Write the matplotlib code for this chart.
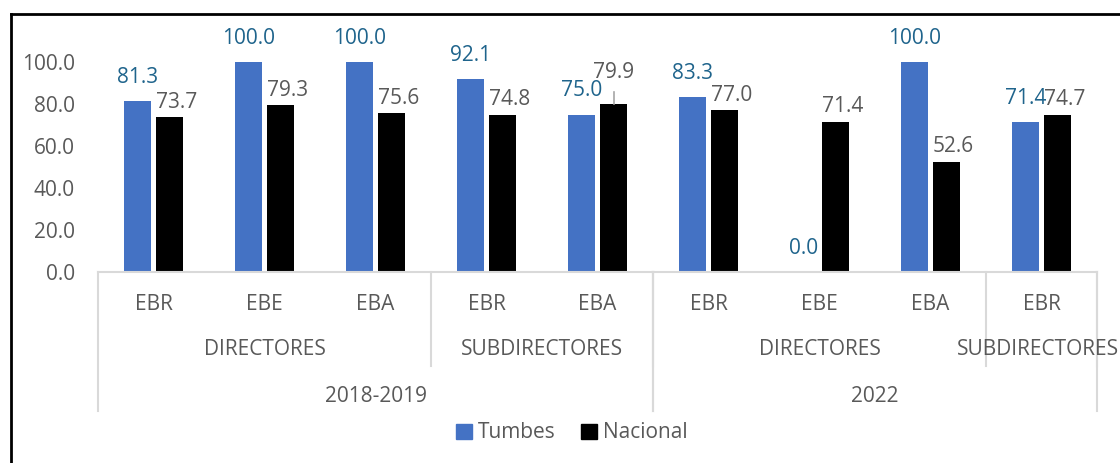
import matplotlib
matplotlib.use('Agg')
import matplotlib.pyplot as plt
from matplotlib.lines import Line2D
from matplotlib.patches import Patch
import matplotlib.transforms as mtransforms
import numpy as np

plt.rcParams['font.family'] = ['Open Sans', 'DejaVu Sans']

niveles = ['EBR', 'EBE', 'EBA', 'EBR', 'EBA', 'EBR', 'EBE', 'EBA', 'EBR']
cargos = [('DIRECTORES', 0, 2), ('SUBDIRECTORES', 3, 4),
          ('DIRECTORES', 5, 7), ('SUBDIRECTORES', 8, 8)]
periodos = [('2018-2019', 0, 4), ('2022', 5, 8)]
tumbes = [81.3, 100.0, 100.0, 92.1, 75.0, 83.3, 0.0, 100.0, 71.4]
nacional = [73.7, 79.3, 75.6, 74.8, 79.9, 77.0, 71.4, 52.6, 74.7]

azul = '#4472C4'
negro = '#000000'
gris = '#595959'
etiq_azul = '#1F648C'
linea = '#D9D9D9'
fs = 15

fig = plt.figure(figsize=(11.2, 4.63), dpi=100)
ax = fig.add_axes([98 / 1120, (463 - 272) / 463, 999 / 1120, 210 / 463])

x = np.arange(len(niveles))
w = 0.245
off = 0.145
ax.bar(x - off, tumbes, w, color=azul)
ax.bar(x + off, nacional, w, color=negro)

ax.set_xlim(-0.5, len(niveles) - 0.5)
ax.set_ylim(0, 100)
ax.set_yticks(np.arange(0, 101, 20))
ax.set_yticklabels([f'{v:.1f}' for v in np.arange(0, 101, 20)], fontsize=fs, color=gris)
ax.tick_params(axis='y', length=0, pad=16.5)
ax.set_xticks([])
for s in ['top', 'right', 'left']:
    ax.spines[s].set_visible(False)
ax.spines['bottom'].set_color(linea)
ax.spines['bottom'].set_linewidth(1.5)

# etiquetas de datos
for i, v in enumerate(tumbes):
    ax.annotate(f'{v:.1f}', (x[i] - off, v), xytext=(0, 13), textcoords='offset points',
                ha='center', va='baseline', fontsize=fs, color=etiq_azul, annotation_clip=False)
for i, v in enumerate(nacional):
    if i == 4:
        ax.plot([x[i] + off, x[i] + off], [v, v + 6], color='#A6A6A6', lw=1.2, clip_on=False)
        ax.annotate(f'{v:.1f}', (x[i] + off, v), xytext=(0, 19), textcoords='offset points',
                    ha='center', va='baseline', fontsize=fs, color=gris, annotation_clip=False)
    else:
        ax.annotate(f'{v:.1f}', (x[i] + off - w / 2, v), xytext=(0, 7), textcoords='offset points',
                    ha='left', va='baseline', fontsize=fs, color=gris, annotation_clip=False)

# eje de categorias multinivel
tr = ax.get_xaxis_transform()
y1, y2, y3 = -0.157, -0.371, -0.595
b2, b3 = -0.447, -0.662
for i, lab in enumerate(niveles):
    ax.text(x[i], y1, lab, transform=tr, ha='center', va='center', fontsize=fs, color=gris)
textos_cargo = []
for lab, a, b in cargos:
    t = ax.text((a + b) / 2, y2, lab, transform=tr, ha='center', va='center', fontsize=fs,
                color=gris, clip_on=False)
    textos_cargo.append(t)
    ax.plot([b + 0.5, b + 0.5], [0, b2], transform=tr, color=linea, lw=1.5, clip_on=False)
for lab, a, b in periodos:
    ax.text((a + b) / 2, y3, lab, transform=tr, ha='center', va='center', fontsize=fs, color=gris)
    ax.plot([a - 0.5, a - 0.5], [0, b3], transform=tr, color=linea, lw=1.5, clip_on=False)
    ax.plot([b + 0.5, b + 0.5], [0, b3], transform=tr, color=linea, lw=1.5, clip_on=False)

# que la ultima etiqueta no se salga de la figura
renderer = fig.canvas.get_renderer()
ult = textos_cargo[-1]
bb = ult.get_window_extent(renderer)
exceso = bb.x1 - (fig.bbox.width - 1)
if exceso > 0:
    ult.set_transform(tr + mtransforms.Affine2D().translate(-exceso, 0))

handles = [Patch(color=azul, label='Tumbes'), Patch(color=negro, label='Nacional')]
leg = fig.legend(handles=handles, loc='center', bbox_to_anchor=(572 / 1120, (463 - 433) / 463),
                 ncol=2, frameon=False, fontsize=fs, handlelength=0.75, handleheight=0.75,
                 handletextpad=0.3, columnspacing=1.2)
for t in leg.get_texts():
    t.set_color(gris)

# borde exterior
fig.add_artist(Line2D([11 / 1120, 11 / 1120], [0, (463 - 14) / 463], color='black', lw=2,
                      transform=fig.transFigure))
fig.add_artist(Line2D([11 / 1120, 1], [(463 - 14) / 463, (463 - 14) / 463], color='black', lw=2,
                      transform=fig.transFigure))

fig.savefig('out.png', dpi=100, facecolor='white')
